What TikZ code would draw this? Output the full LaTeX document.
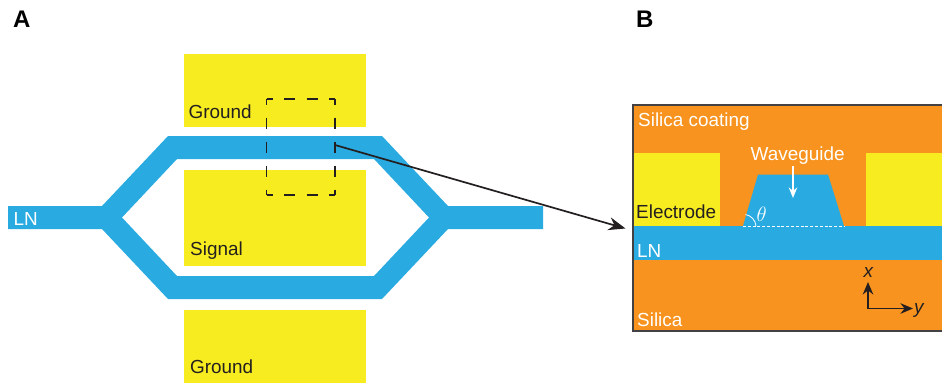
\documentclass[tikz,border=0pt]{standalone}
\usepackage{fontspec}
\setmainfont{Liberation Sans}
\usetikzlibrary{arrows.meta}
\definecolor{lnblue}{RGB}{41,171,226}
\definecolor{elec}{RGB}{247,236,31}
\definecolor{silica}{RGB}{247,147,30}
\definecolor{ink}{RGB}{35,31,32}
\tikzset{
  x=1pt,y=-1pt,
  lbl/.style={font=\fontsize{18.9}{21}\selectfont,text=ink,inner sep=0pt,anchor=base west},
  wlbl/.style={lbl,text=white},
  panel/.style={font=\fontsize{24}{26}\selectfont\bfseries,text=black,inner sep=0pt,anchor=base west},
  pad/.style={fill=elec,draw=none},
  guide/.style={fill=lnblue,draw=none},
  tip/.style={-{Stealth[length=12.5pt,width=10.5pt]}},
  sharp/.style={line width=1.7pt,draw=ink},
  winh/.style={draw=ink,line width=1.7pt,dash pattern=on 11pt off 11.5pt,dash phase=5pt},
  winv/.style={draw=ink,line width=1.7pt,dash pattern=on 11.5pt off 12.5pt,dash phase=5.5pt}
}
\begin{document}
\begin{tikzpicture}
\useasboundingbox (0,0) rectangle (942,384);
% Panel A pads
\fill[pad] (184,54) rectangle (366,127);
\fill[pad] (184,170) rectangle (366,266);
\fill[pad] (184,310) rectangle (366,383);
% Mach-Zehnder waveguide
\fill[guide,even odd rule]
  (8,206) -- (102,206) -- (168,136) -- (382,136) -- (448,206) -- (543,206)
  -- (543,229) -- (448,229) -- (382,299) -- (168,299) -- (102,229) -- (8,229) -- cycle
  (122,217.5) -- (177,159) -- (374,159) -- (429,217.5) -- (374,276) -- (177,276) -- cycle;
\node[lbl] (ground1) at (188.5,118) {Ground};
\node[lbl] (signal) at (190,255) {Signal};
\node[lbl] (ground2) at (190,373) {Ground};
\node[wlbl] (lnA) at (13.5,225) {LN};
% Zoom window
\node[minimum width=68.5pt,minimum height=96pt,inner sep=0pt,outer sep=0pt,anchor=north west] (window) at (266.5,99) {};
\draw[winh] (window.north west) -- (window.north east);
\draw[winh] (window.south west) -- (window.south east);
\draw[winv] (window.north west) -- (window.south west);
\draw[winv] (window.north east) -- (window.south east);
\coordinate (from) at (335,145);
\coordinate (to) at (625.5,228.5);
% Panel B
\fill[silica] (633,105) rectangle (942,331);
\fill[pad] (634,153) rectangle (720,226);
\fill[pad] (866,153) rectangle (942,226);
\fill[guide] (633,226) rectangle (942,260);
\fill[guide] (743,226) -- (758,174.5) -- (828,174.5) -- (844,226) -- cycle;
\draw[ink!85!white,line width=1.2pt] (942,105) -- (633,105) -- (633,331) -- (942,331);
\draw[white,line width=0.9pt,dash pattern=on 3pt off 1.8pt] (743,226) -- (844,226);
\draw[white,line width=0.8pt] (745.5,214.5) .. controls (751,215.5) and (755.5,220) .. (756,226);
\node[wlbl] (coating) at (638,126) {Silica coating};
\node[wlbl] (wg) at (750.5,160) {Waveguide};
\node[lbl] (electrode) at (636,218) {Electrode};
\node[wlbl] (lnB) at (637,257) {LN};
\node[wlbl] (silicalbl) at (637,326) {Silica};
\node[wlbl,text=white,font=\fontsize{22}{24}\selectfont] (theta) at (756.5,221) {$\theta$};
\coordinate (wgtop) at (793,166);
\coordinate (wgtip) at (793,198);
\draw[white,line width=1.7pt,-{Stealth[length=10.5pt,width=8.5pt]}] (wgtop) -- (wgtip);
% Axes
\coordinate (origin) at (868,308.5);
\coordinate (xend) at (868,282);
\coordinate (yend) at (913,308.5);
\draw[sharp,tip] (origin) -- (xend);
\draw[sharp,tip] (origin) -- (yend);
\node[lbl,font=\fontsize{18.9}{21}\selectfont\itshape] (xl) at (863.5,277) {x};
\node[lbl,font=\fontsize{18.9}{21}\selectfont\itshape] (yl) at (914,313) {y};
% Connector
\draw[ink,line width=1.7pt,-{Stealth[length=17pt,width=13pt]}] (from) -- (to);
% Panel letters
\node[panel] (A) at (13,27) {A};
\node[panel] (B) at (636,27) {B};
\end{tikzpicture}
\end{document}
